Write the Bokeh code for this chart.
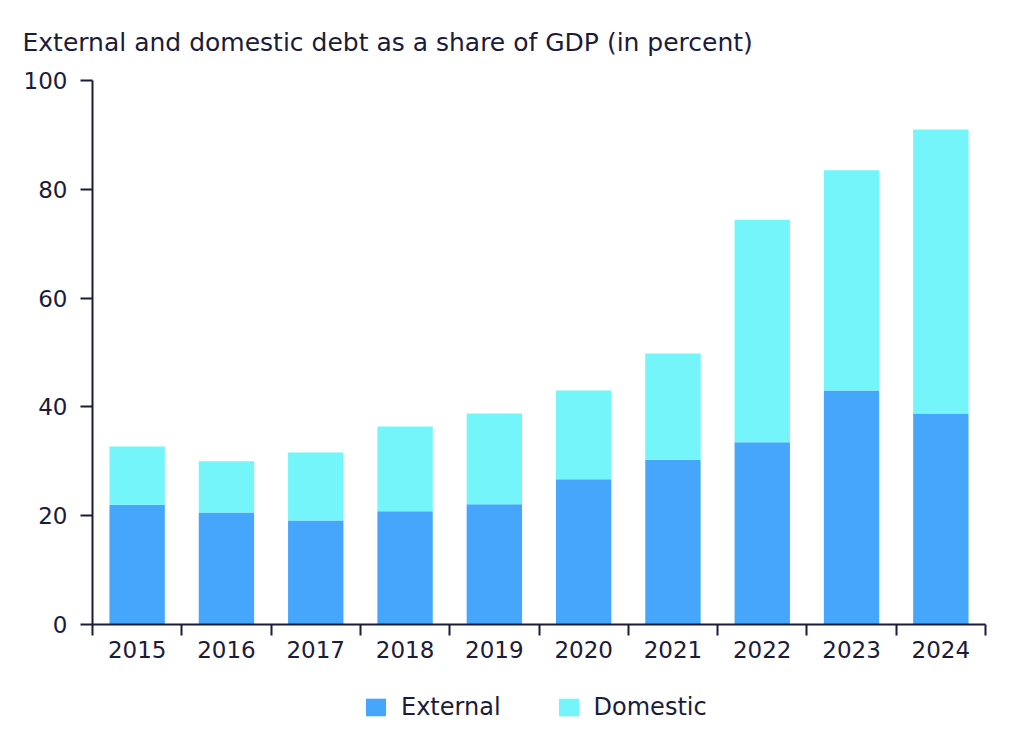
from bokeh.plotting import figure
from bokeh.layouts import column
from bokeh.models import FixedTicker, Legend, LegendItem, Range1d, ColumnDataSource, Title
from bokeh.embed import file_html
from bokeh.resources import INLINE

years = ["2015", "2016", "2017", "2018", "2019", "2020", "2021", "2022", "2023", "2024"]
external = [22.0, 20.6, 19.1, 20.8, 22.1, 26.7, 30.3, 33.5, 43.0, 38.8]
domestic = [10.7, 9.4, 12.5, 15.6, 16.7, 16.3, 19.5, 40.9, 40.5, 52.2]
y_ticks = [0, 20, 40, 60, 80, 100]
series = ["External", "Domestic"]
title_text = "External and domestic debt as a share of GDP (in percent)"

FONT = "DejaVu Sans"
TXT = "#1b1b3a"
C_EXT = "#45a6fb"
C_DOM = "#74f5fa"
colors = [C_EXT, C_DOM]

centers = [i + 0.5 for i in range(len(years))]
bounds = [i for i in range(len(years) + 1)]

src = ColumnDataSource(dict(x=centers, External=external, Domestic=domestic))

p = figure(width=1000, height=672, output_backend="svg", toolbar_location=None,
           x_range=Range1d(0, len(years)), y_range=Range1d(0, 100),
           min_border_left=92, min_border_right=15, min_border_top=80, min_border_bottom=48)
p.outline_line_color = None
p.xgrid.visible = False
p.ygrid.visible = False

p.title = Title(text=title_text,
                text_font=FONT, text_font_size="25px", text_color=TXT,
                text_font_style="normal", align="left", offset=-70, standoff=48)

r = p.vbar_stack(series, x="x", width=0.62, source=src,
                 color=colors, line_color=None)

# x axis
xa = p.xaxis[0]
xa.ticker = FixedTicker(ticks=centers, minor_ticks=bounds)
xa.major_label_overrides = {c: y for c, y in zip(centers, years)}
xa.major_tick_out = 0
xa.major_tick_in = 0
xa.minor_tick_out = 11
xa.minor_tick_in = 0
xa.minor_tick_line_width = 2
xa.minor_tick_line_color = TXT
xa.axis_line_color = TXT
xa.axis_line_width = 2
xa.major_label_standoff = 5
xa.major_label_text_font = FONT
xa.major_label_text_font_size = "23px"
xa.major_label_text_color = TXT

# y axis
ya = p.yaxis[0]
ya.ticker = FixedTicker(ticks=y_ticks)
ya.minor_tick_line_color = None
ya.major_tick_out = 12
ya.major_tick_in = 0
ya.major_tick_line_width = 2
ya.major_tick_line_color = TXT
ya.axis_line_color = TXT
ya.axis_line_width = 2
ya.major_label_standoff = 13
ya.major_label_text_font = FONT
ya.major_label_text_font_size = "23px"
ya.major_label_text_color = TXT

# legend in its own strip below the chart
lg = figure(width=1000, height=70, output_backend="svg", toolbar_location=None,
            x_range=Range1d(0, 1), y_range=Range1d(0, 1),
            x_axis_location=None, y_axis_location=None,
            min_border_left=0, min_border_right=0, min_border_top=0, min_border_bottom=0)
lg.grid.visible = False
lg.outline_line_color = None
items = []
for name, col in zip(series, colors):
    rr = lg.vbar(x=[0.5], top=[0], bottom=[0], width=0.1, color=col, line_color=None)
    items.append(LegendItem(label=name, renderers=[rr]))
legend = Legend(items=items, orientation="horizontal", location=(271, 21),
                label_text_font=FONT, label_text_font_size="24px", label_text_color=TXT,
                glyph_width=25, glyph_height=22, spacing=55, label_standoff=13,
                border_line_color=None, background_fill_alpha=0, margin=0, padding=4)
lg.add_layout(legend, "center")

layout = column(p, lg, spacing=0)
open("out.html", "w").write(file_html(layout, INLINE))
